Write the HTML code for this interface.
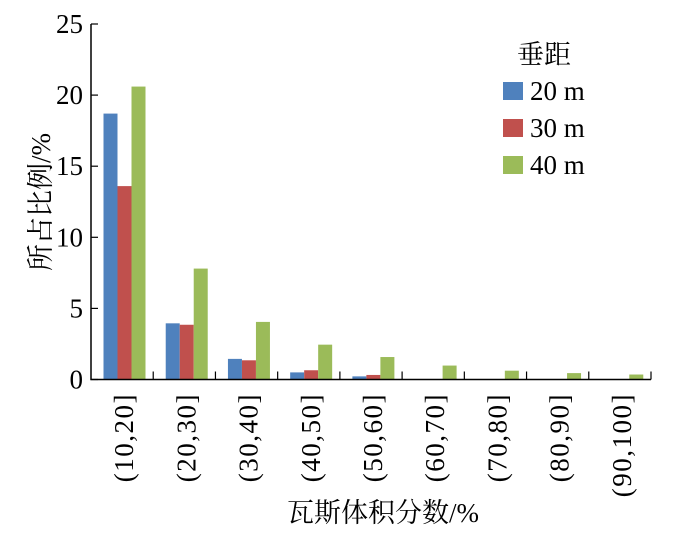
<!DOCTYPE html>
<html><head><meta charset="utf-8"><style>
body{margin:0;background:#fff}
svg text{font-family:"Liberation Serif","Noto Serif CJK SC",serif;fill:#000}
</style></head><body>
<svg id="c" width="680" height="536"></svg>
<script>
const categories=["(10,20]","(20,30]","(30,40]","(40,50]","(50,60]","(60,70]","(70,80]","(80,90]","(90,100]"];
const s20=[18.7,3.95,1.45,0.5,0.22,0,0,0,0];
const s30=[13.6,3.85,1.35,0.65,0.32,0,0,0,0];
const s40=[20.6,7.8,4.05,2.45,1.58,0.98,0.62,0.45,0.35];
const yTicks=[0,5,10,15,20,25];
const seriesNames=["20 m","30 m","40 m"];
const colors=["#4f81bd","#c0504d","#9bbb59"];
const NS="http://www.w3.org/2000/svg";
const svg=document.getElementById('c');
const X0=91,X1=651,Y0=379.5,Y1=24;
const cw=(X1-X0)/categories.length;
const y=v=>Y0-(v/25)*(Y0-Y1);
function el(t,a,p){const e=document.createElementNS(NS,t);for(const k in a)e.setAttribute(k,a[k]);(p||svg).appendChild(e);return e;}
[s20,s30,s40].forEach((s,si)=>{s.forEach((v,i)=>{if(v<=0)return;
const r=el('rect',{x:X0+i*cw+12.5+si*14,y:y(v),width:14,height:Y0-y(v),fill:colors[si]});

});});
const ax=el('path',{d:`M${X0} ${Y1}V${Y0}H${X1}`,stroke:'#000','stroke-width':1.5,fill:'none'});

yTicks.forEach(t=>{el('line',{x1:X0,x2:X0+7,y1:y(t),y2:y(t),stroke:'#000','stroke-width':1.2});
const tx=el('text',{x:X0-8,y:y(t)+9,'text-anchor':'end','font-size':27});tx.textContent=t;
});
categories.forEach((c,i)=>{const xx=X0+(i+1)*cw;el('line',{x1:xx,x2:xx,y1:Y0,y2:Y0-8,stroke:'#000','stroke-width':1.2});
const cx=X0+(i+0.5)*cw;const tx=el('text',{transform:`translate(${cx+11},393) rotate(-90)`,'text-anchor':'end','font-size':27,'letter-spacing':1.5});tx.textContent=c;
});
const xt=el('text',{x:383,y:522,'text-anchor':'middle','font-size':27});xt.textContent='瓦斯体积分数/%';

const yt=el('text',{transform:'translate(50,202) rotate(-90)','text-anchor':'middle','font-size':27});yt.textContent='所占比例/%';

const lt=el('text',{x:517,y:64,'font-size':27});lt.textContent='垂距';

seriesNames.forEach((n,i)=>{const g=el('g',{});

el('rect',{x:503,y:82+i*37,width:20,height:18,fill:colors[i]},g);
const t=el('text',{x:530,y:100+i*37,'font-size':27},g);t.textContent=n;});
</script>
</body></html>
